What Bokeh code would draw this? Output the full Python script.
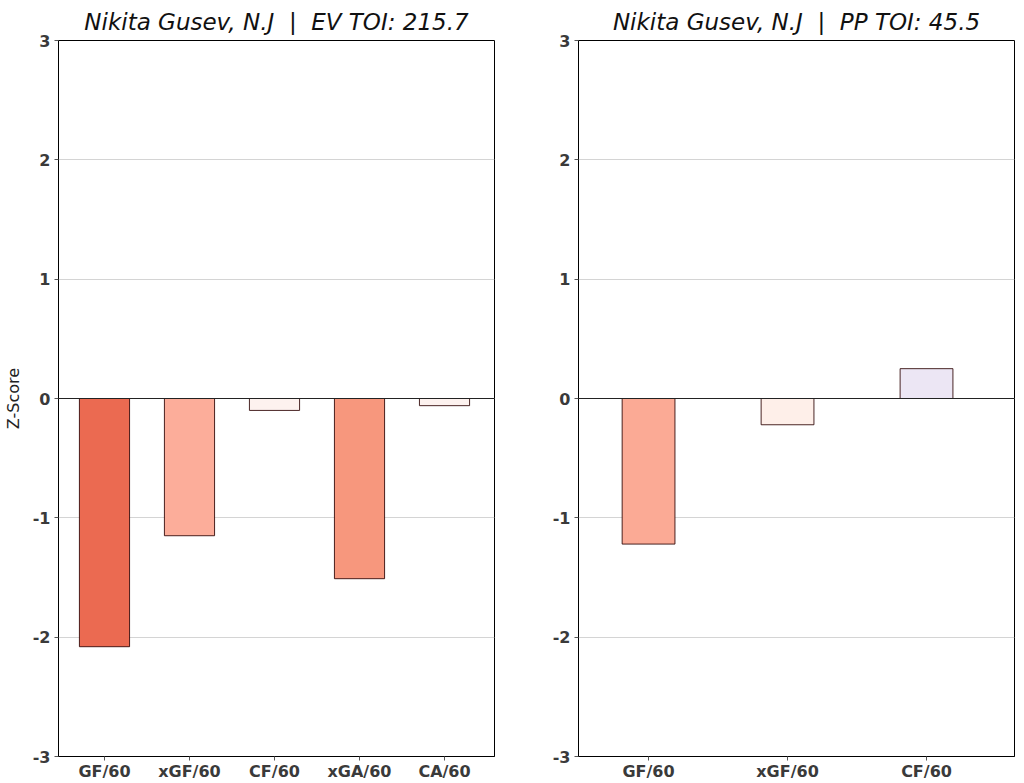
from bokeh.plotting import figure
from bokeh.layouts import row
from bokeh.models import Range1d, FixedTicker, Span, ColumnDataSource
from bokeh.embed import file_html
from bokeh.resources import INLINE

player = "Nikita Gusev, N.J"

ev_metrics = ["GF/60", "xGF/60", "CF/60", "xGA/60", "CA/60"]
ev_z = [-2.08, -1.15, -0.10, -1.51, -0.06]
ev_colors = ["#EB6A51", "#FCAD9A", "#FDF2EF", "#F7977D", "#FDF2EF"]
ev_toi = 215.7

pp_metrics = ["GF/60", "xGF/60", "CF/60"]
pp_z = [-1.22, -0.22, 0.25]
pp_colors = ["#FBAA95", "#FEEFE9", "#ECE6F4"]
pp_toi = 45.5

FONT = "DejaVu Sans"
TICK_COLOR = "#3a3a3a"
SEP = "\u00a0\u00a0|\u00a0\u00a0"


def panel(metrics, z, colors, title, pad_left, pad_right, bar_width,
          border_left, border_right, show_ylabel):
    n = len(metrics)
    xs = list(range(n))
    p = figure(width=border_left + 436 + border_right, height=783,
               output_backend="svg", toolbar_location=None,
               x_range=Range1d(-pad_left, n - 1 + pad_right),
               y_range=Range1d(-3, 3),
               min_border_left=border_left, min_border_right=border_right,
               min_border_top=40, min_border_bottom=26,
               title=title)
    p.title.text_font = FONT
    p.title.text_font_style = "italic"
    p.title.text_font_size = "23px"
    p.title.text_color = "#111111"
    p.title.align = "center"
    p.title.offset = 0
    p.title.standoff = 12

    src = ColumnDataSource(dict(x=xs, top=z, color=colors))
    p.vbar(x="x", top="top", bottom=0, width=bar_width, source=src,
           fill_color="color", line_color="#2a0000", line_width=1,
           line_alpha=0.85)

    p.add_layout(Span(location=0, dimension="width", line_color="#222222",
                      line_width=1.2))

    p.xaxis.ticker = FixedTicker(ticks=xs)
    p.xaxis.major_label_overrides = {i: m for i, m in enumerate(metrics)}
    p.yaxis.ticker = FixedTicker(ticks=[-3, -2, -1, 0, 1, 2, 3])
    p.yaxis.major_label_overrides = {-3: "-3", -2: "-2", -1: "-1", 0: "0",
                                     1: "1", 2: "2", 3: "3"}

    for ax in (p.xaxis, p.yaxis):
        ax.major_label_text_font = FONT
        ax.major_label_text_font_style = "bold"
        ax.major_label_text_font_size = "16px"
        ax.major_label_text_color = TICK_COLOR
        ax.axis_line_color = "#000000"
        ax.major_tick_line_color = "#555555"
        ax.major_tick_in = 0
        ax.major_tick_out = 4
        ax.minor_tick_line_color = None
    p.xaxis.major_label_standoff = 1
    p.yaxis.major_label_standoff = 4

    if show_ylabel:
        p.yaxis.axis_label = "Z-Score"
        p.yaxis.axis_label_text_font = FONT
        p.yaxis.axis_label_text_font_style = "normal"
        p.yaxis.axis_label_text_font_size = "16px"
        p.yaxis.axis_label_text_color = "#222222"
        p.yaxis.axis_label_standoff = 7

    p.xgrid.grid_line_color = None
    p.ygrid.grid_line_color = "#d4d4d4"
    p.ygrid.grid_line_width = 1

    p.outline_line_color = "#000000"
    p.outline_line_width = 1
    p.outline_line_alpha = 1.0
    p.background_fill_color = "white"
    p.border_fill_color = "white"
    return p


left = panel(ev_metrics, ev_z, ev_colors,
             f"{player}{SEP}EV TOI: {ev_toi}",
             pad_left=0.541, pad_right=0.588, bar_width=0.59,
             border_left=58, border_right=18, show_ylabel=True)
right = panel(pp_metrics, pp_z, pp_colors,
              f"{player}{SEP}PP TOI: {pp_toi}",
              pad_left=0.504, pad_right=0.633, bar_width=0.38,
              border_left=66, border_right=10, show_ylabel=False)

layout = row(left, right, spacing=0)
open("out.html", "w").write(file_html(layout, INLINE))
